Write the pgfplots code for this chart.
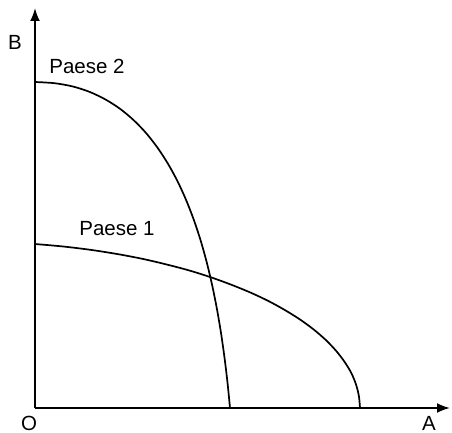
\documentclass[border=0pt]{standalone}
\usepackage{fontspec}
\setmainfont{Liberation Sans}
\usepackage{pgfplots}
\pgfplotsset{compat=1.18}
\usetikzlibrary{arrows.meta}

% Production possibility frontiers of the two countries
\pgfplotstableread{
x y
0 326
19.6 324.8
37.9 321.5
54.9 316.0
70.7 308.4
85.3 299.0
98.8 287.7
111.2 274.8
122.6 260.2
133.0 244.2
142.5 226.8
151.1 208.0
158.8 188.2
165.7 167.3
171.8 145.4
177.2 122.6
181.9 99.2
186.0 75.1
189.5 50.4
192.5 25.4
195 0
}\paeseduo

\pgfplotstableread{
x y
0 164
28.2 161.5
55.3 158.2
81.5 154.1
106.8 149.3
130.9 143.7
154.0 137.6
175.9 130.7
196.5 123.2
215.8 115.3
233.8 106.8
250.3 97.7
265.3 88.3
278.8 78.4
290.7 68.1
300.9 57.4
309.4 46.4
316.2 35.2
321.0 23.6
323.9 11.9
325 0
}\paeseuno

\begin{document}
\fontsize{20.5bp}{24bp}\selectfont
\begin{tikzpicture}
\path[use as bounding box] (-35bp,-25bp) rectangle (417bp,408bp);
\begin{axis}[
  anchor=origin, at={(0,0)},
  scale only axis, width=415bp, height=400bp,
  xmin=0, xmax=415, ymin=0, ymax=400,
  axis lines=left,
  axis line style={line width=2bp, -{Latex[length=13bp,width=10bp]}},
  xtick=\empty, ytick=\empty,
  clip=false,
]
\addplot[smooth, line width=1.7bp, black] table {\paeseduo};
\addplot[smooth, line width=1.7bp, black] table {\paeseuno};
\node[inner sep=0pt] at (axis cs:-20,366) {B};
\node[inner sep=0pt] at (axis cs:394,-15) {A};
\node[inner sep=0pt] at (axis cs:-6,-15) {O};
\node[inner sep=0pt] at (axis cs:52,342) {Paese 2};
\node[inner sep=0pt] at (axis cs:82,179) {Paese 1};
\end{axis}
\end{tikzpicture}
\end{document}
